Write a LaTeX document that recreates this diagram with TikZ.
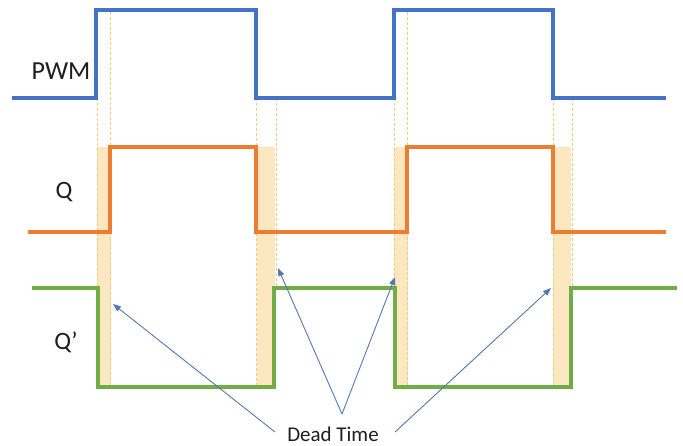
\documentclass[tikz,border=0pt]{standalone}
\usepackage{fontspec}
\setmainfont{Carlito}
\usetikzlibrary{arrows.meta}
\definecolor{pwmblue}{HTML}{4472C4}
\definecolor{qorange}{HTML}{ED7D31}
\definecolor{qgreen}{HTML}{70AD47}
\definecolor{bandc}{HTML}{FCE7C0}
\definecolor{dashc}{HTML}{F4CB78}
\definecolor{arrowc}{HTML}{5577B3}
\definecolor{txtc}{HTML}{1E1E1E}
\begin{document}
\begin{tikzpicture}[x=1pt,y=-1pt,
  signal/.style={line width=3.6pt, line join=miter},
  guide/.style={dashc, dashed, dash pattern=on 3pt off 2pt, line width=0.7pt},
  band/.style={fill=bandc},
  lbl/.style={inner sep=0pt, anchor=base, text=txtc, font=\fontsize{25}{25}\selectfont},
  pointer/.style={arrowc, line width=0.9pt, -{Triangle[length=8pt,width=6pt]}}]
\useasboundingbox (0,0) rectangle (683,446);
% dead-time bands
\fill[band] (97,147) rectangle (111,388);
\fill[band] (257,147) rectangle (275,388);
\fill[band] (394,147) rectangle (408,388);
\fill[band] (553,147) rectangle (571,388);
% dashed guides
\draw[guide] (110,12) -- (110,387);
\draw[guide] (97,98) -- (97,387);
\draw[guide] (256,98) -- (256,387);
\draw[guide] (276,98) -- (276,288);
\draw[guide] (407,12) -- (407,387);
\draw[guide] (394,98) -- (394,387);
\draw[guide] (553,98) -- (553,387);
\draw[guide] (572,98) -- (572,288);
% signals
\draw[signal, pwmblue] (12,98) -- (96,98) -- (96,10) -- (256,10) -- (256,98) -- (394,98) -- (394,10) -- (553,10) -- (553,98) -- (666,98);
\draw[signal, qorange] (28,232) -- (110,232) -- (110,147) -- (256,147) -- (256,232) -- (407,232) -- (407,147) -- (553,147) -- (553,232) -- (666,232);
\draw[signal, qgreen] (32,288) -- (98,288) -- (98,387) -- (274,387) -- (274,288) -- (395,288) -- (395,387) -- (571,387) -- (571,288) -- (677,288);
% labels
\node[lbl, font=\fontsize{26}{26}\selectfont] (pwm) at (61,80) {PWM};
\node[lbl] (q) at (64,199) {Q};
\node[lbl] (qp) at (66,349) {Q’};
\node[lbl, font=\fontsize{21}{21}\selectfont] (dt) at (333,441) {Dead Time};
% arrows
\coordinate (t1) at (275,432);
\coordinate (t2) at (342,414);
\coordinate (t4) at (395,432);
\coordinate (h1) at (113,304);
\coordinate (h2) at (278,268);
\coordinate (h3) at (395,277);
\coordinate (h4) at (551,288);
\draw[pointer] (t1) -- (h1);
\draw[pointer] (t2) -- (h2);
\draw[pointer] (t2) -- (h3);
\draw[pointer] (t4) -- (h4);
\end{tikzpicture}
\end{document}
